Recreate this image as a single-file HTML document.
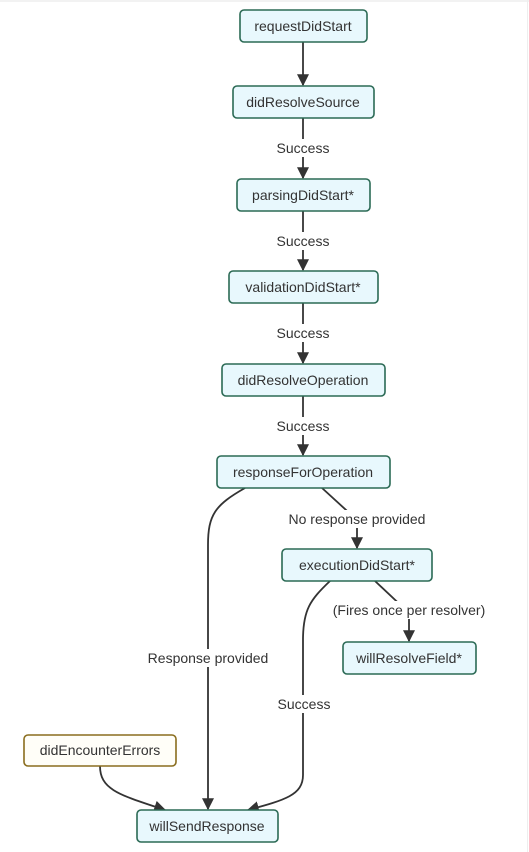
<!DOCTYPE html>
<html><head><style>
html,body{margin:0;padding:0;background:#fff;}
svg{display:block;}
text{font-family:"Liberation Sans","DejaVu Sans",sans-serif;font-size:14px;fill:#333;}
.n{fill:#e8f8fd;stroke:#2b6a55;stroke-width:1.6;}
.e{fill:none;stroke:#333;stroke-width:1.8;}
.lb{fill:#fff;}
</style></head><body>
<svg width="529" height="852" viewBox="0 0 529 852" xmlns="http://www.w3.org/2000/svg">
<defs><marker id="a" viewBox="0 0 10 10" refX="9" refY="5" markerWidth="12" markerHeight="12" orient="auto-start-reverse" markerUnits="userSpaceOnUse"><path d="M0,0L10,5L0,10z" fill="#333"/></marker></defs>
<line x1="0" y1="1" x2="529" y2="1" stroke="#e4e4e4"/>
<line x1="527.5" y1="0" x2="527.5" y2="852" stroke="#eee"/>
<path class="e" d="M303,42V85" marker-end="url(#a)"/>
<path class="e" d="M303,118V178" marker-end="url(#a)"/>
<path class="e" d="M303,211V270" marker-end="url(#a)"/>
<path class="e" d="M303,303V363" marker-end="url(#a)"/>
<path class="e" d="M303,396V455" marker-end="url(#a)"/>
<path class="e" d="M245,488C215,505 208,515 208,545V809" marker-end="url(#a)"/>
<path class="e" d="M322,488L357,520V548" marker-end="url(#a)"/>
<path class="e" d="M375,581L409,613V641" marker-end="url(#a)"/>
<path class="e" d="M330,581C310,600 303,610 303,640V775C303,795 285,800 248,810" marker-end="url(#a)"/>
<path class="e" d="M100,766C100,790 120,795 165,810" marker-end="url(#a)"/>
<g text-anchor="middle">
<rect class="lb" x="274" y="139" width="58" height="18"/><text x="303" y="153">Success</text>
<rect class="lb" x="274" y="232" width="58" height="18"/><text x="303" y="246">Success</text>
<rect class="lb" x="274" y="324" width="58" height="18"/><text x="303" y="338">Success</text>
<rect class="lb" x="274" y="417" width="58" height="18"/><text x="303" y="431">Success</text>
<rect class="lb" x="284" y="510" width="146" height="18"/><text x="357" y="524">No response provided</text>
<rect class="lb" x="326" y="601" width="166" height="18"/><text x="409" y="615">(Fires once per resolver)</text>
<rect class="lb" x="144" y="649" width="128" height="18"/><text x="208" y="663">Response provided</text>
<rect class="lb" x="275" y="695" width="58" height="18"/><text x="304" y="709">Success</text>
</g>
<g text-anchor="middle">
<rect class="n" x="240" y="10" width="127" height="32" rx="4"/><text x="303" y="31">requestDidStart</text>
<rect class="n" x="233" y="86" width="141" height="32" rx="4"/><text x="303" y="107">didResolveSource</text>
<rect class="n" x="237" y="179" width="133" height="32" rx="4"/><text x="303" y="200">parsingDidStart*</text>
<rect class="n" x="229" y="271" width="149" height="32" rx="4"/><text x="303" y="292">validationDidStart*</text>
<rect class="n" x="222" y="364" width="163" height="32" rx="4"/><text x="303" y="385">didResolveOperation</text>
<rect class="n" x="217" y="456" width="173" height="32" rx="4"/><text x="303" y="477">responseForOperation</text>
<rect class="n" x="282" y="549" width="150" height="32" rx="4"/><text x="357" y="570">executionDidStart*</text>
<rect class="n" x="343" y="642" width="133" height="32" rx="4"/><text x="409" y="663">willResolveField*</text>
<rect x="24" y="735" width="152" height="31" rx="4" fill="#fffef8" stroke="#8a6d1e" stroke-width="1.6"/><text x="100" y="755">didEncounterErrors</text>
<rect class="n" x="137" y="810" width="141" height="32" rx="4"/><text x="207" y="831">willSendResponse</text>
</g>
</svg>
</body></html>
